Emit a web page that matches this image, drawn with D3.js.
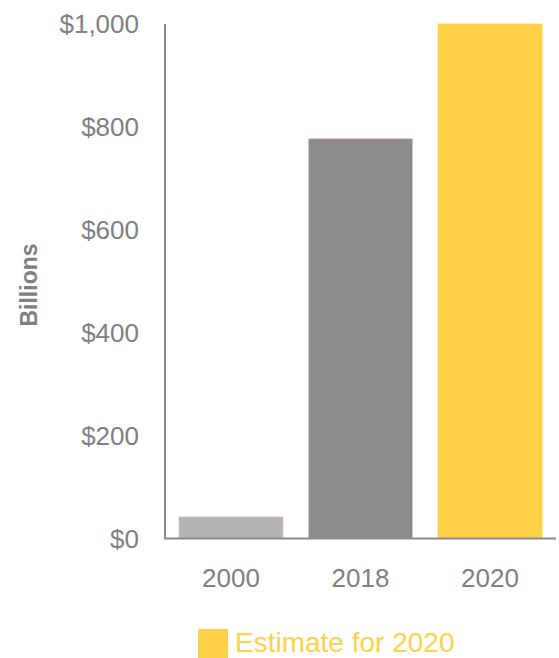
<!DOCTYPE html>
<html>
<head>
<meta charset="utf-8">
<script src="https://cdn.jsdelivr.net/npm/d3@7"></script>
<style>
  html, body { margin: 0; padding: 0; background: #fff; }
  svg { display: block; font-family: "Liberation Sans", Arial, sans-serif; }
</style>
</head>
<body>
<svg id="chart" width="559" height="658"></svg>
<script>
// Spending by year, in billions of dollars
const years = ["2000", "2018", "2020"];
const values = [42, 777, 1000];
const barColors = ["#b3b3b3", "#8c8c8c", "#ffd147"];
const yTicks = [0, 200, 400, 600, 800, 1000];
const yLabel = "Billions";
const legendLabel = "Estimate for 2020";

const svg = d3.select("#chart");
const plotLeft = 165, plotRight = 556, plotTop = 24, plotBottom = 538.5;
const textGray = "#808080";

const x = d3.scaleBand()
  .domain(years)
  .range([plotLeft, plotRight])
  .paddingInner(0.197)
  .paddingOuter(0.108);

const y = d3.scaleLinear()
  .domain([0, 1000])
  .range([plotBottom, plotTop]);

// Bars
svg.append("g")
  .selectAll("rect")
  .data(years)
  .join("rect")
  .attr("x", d => x(d))
  .attr("y", (d, i) => y(values[i]))
  .attr("width", x.bandwidth())
  .attr("height", (d, i) => y(0) - y(values[i]))
  .attr("fill", (d, i) => barColors[i])
  .attr("stroke", (d, i) => i < 2 ? "#e3c6b2" : "#ffcf3f")
  .attr("stroke-width", 0.8);

// Y axis
const yAxis = svg.append("g")
  .attr("transform", `translate(${plotLeft},0)`)
  .call(d3.axisLeft(y)
    .tickValues(yTicks)
    .tickSize(0)
    .tickPadding(26)
    .tickFormat(d => "$" + d3.format(",")(d)));
yAxis.select(".domain").remove();
yAxis.selectAll("text")
  .attr("fill", textGray)
  .attr("font-size", "26px")
  .attr("dy", "0.34em");

// Axis lines
svg.append("line")
  .attr("x1", plotLeft).attr("x2", plotLeft)
  .attr("y1", plotTop).attr("y2", plotBottom)
  .attr("stroke", "#8c8c8c").attr("stroke-width", 2);
svg.append("line")
  .attr("x1", plotLeft - 1).attr("x2", plotRight)
  .attr("y1", plotBottom).attr("y2", plotBottom)
  .attr("stroke", "#8c8c8c").attr("stroke-width", 2);

// X axis labels
const xAxis = svg.append("g")
  .attr("transform", `translate(0,${plotBottom})`)
  .call(d3.axisBottom(x).tickSize(0).tickPadding(30));
xAxis.select(".domain").remove();
xAxis.selectAll("text")
  .attr("fill", textGray)
  .attr("font-size", "26px")
  .attr("dy", "0.71em");

// Y axis title
svg.append("text")
  .attr("transform", "translate(37,285) rotate(-90)")
  .attr("text-anchor", "middle")
  .attr("fill", textGray)
  .attr("font-size", "23px")
  .attr("font-weight", "bold")
  .text(yLabel);

// Legend
const legend = svg.append("g");
legend.append("rect")
  .attr("x", 198).attr("y", 629)
  .attr("width", 30).attr("height", 29)
  .attr("fill", barColors[2]);
legend.append("text")
  .attr("x", 235).attr("y", 652)
  .attr("fill", barColors[2])
  .attr("font-size", "28px")
  .text(legendLabel);
</script>
</body>
</html>
